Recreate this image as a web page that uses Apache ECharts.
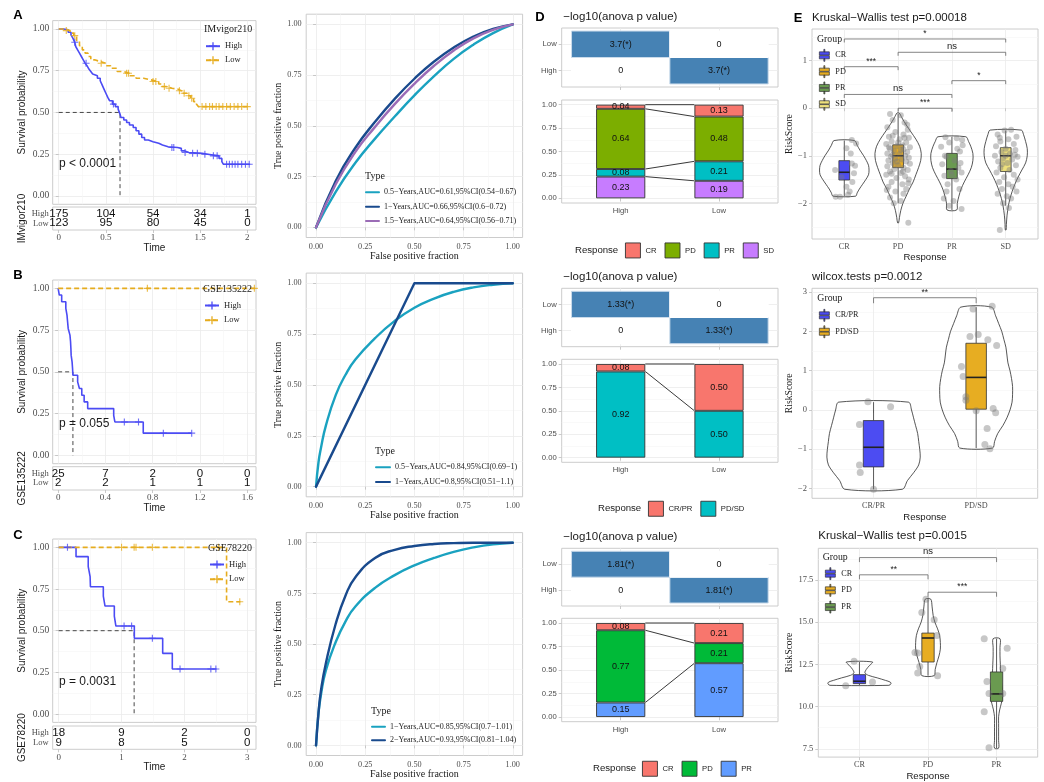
<!DOCTYPE html>
<html><head><meta charset="utf-8">
<script src="https://cdn.jsdelivr.net/npm/echarts@6/dist/echarts.min.js"></script>
<style>html,body{margin:0;padding:0;background:#fff}#c{width:1044px;height:782px}</style>
</head><body><div id="c"></div>
<script>
// ================= DATA =================
// ---- KM A : IMvigor210 ----
const kmA_ticks = [0, 0.5, 1, 1.5, 2];
const kmA_high = [[0,1],[0.05,0.995],[0.10,0.98],[0.13,0.965],[0.15,0.945],[0.17,0.92],[0.18,0.895],[0.20,0.875],[0.22,0.855],[0.24,0.835],[0.26,0.815],[0.28,0.795],[0.30,0.78],[0.32,0.76],[0.34,0.745],[0.36,0.73],[0.38,0.72],[0.41,0.705],[0.44,0.69],[0.46,0.665],[0.48,0.64],[0.50,0.615],[0.52,0.59],[0.54,0.57],[0.57,0.55],[0.60,0.535],[0.63,0.52],[0.65,0.49],[0.66,0.47],[0.69,0.455],[0.72,0.44],[0.75,0.425],[0.79,0.41],[0.82,0.39],[0.85,0.37],[0.88,0.35],[0.91,0.335],[0.95,0.325],[1.00,0.315],[1.06,0.305],[1.10,0.295],[1.16,0.29],[1.26,0.285],[1.30,0.27],[1.33,0.26],[1.38,0.255],[1.52,0.25],[1.58,0.24],[1.70,0.225],[1.73,0.205],[1.745,0.19],[2.03,0.19]];
const kmA_low = [[0,1],[0.07,0.99],[0.12,0.975],[0.16,0.96],[0.19,0.93],[0.22,0.90],[0.25,0.875],[0.28,0.855],[0.31,0.835],[0.34,0.815],[0.38,0.805],[0.44,0.795],[0.50,0.78],[0.55,0.765],[0.62,0.745],[0.69,0.735],[0.75,0.72],[0.82,0.705],[0.90,0.695],[0.98,0.685],[1.06,0.67],[1.10,0.655],[1.14,0.645],[1.20,0.64],[1.26,0.63],[1.30,0.615],[1.36,0.60],[1.40,0.585],[1.43,0.565],[1.46,0.55],[1.48,0.535],[2.03,0.535]];
const kmA_highCens = [[0.17,0.92],[0.29,0.795],[0.58,0.55],[1.20,0.29],[1.22,0.29],[1.34,0.26],[1.42,0.255],[1.47,0.255],[1.55,0.25],[1.64,0.24],[1.68,0.24],[1.78,0.19],[1.81,0.19],[1.84,0.19],[1.87,0.19],[1.90,0.19],[1.94,0.19],[1.98,0.19],[2.02,0.19]];
const kmA_lowCens = [[0.08,0.99],[0.17,0.96],[0.45,0.795],[0.72,0.735],[0.74,0.735],[1.00,0.685],[1.03,0.685],[1.12,0.655],[1.17,0.645],[1.28,0.63],[1.33,0.615],[1.38,0.60],[1.41,0.585],[1.52,0.535],[1.56,0.535],[1.60,0.535],[1.63,0.535],[1.67,0.535],[1.70,0.535],[1.74,0.535],[1.78,0.535],[1.82,0.535],[1.86,0.535],[1.90,0.535],[1.94,0.535],[2.00,0.535]];
const kmA_median = 0.65;
const riskA_high = [175, 104, 54, 34, 1];
const riskA_low = [123, 95, 80, 45, 0];

// ---- KM B : GSE135222 ----
const kmB_ticks = [0, 0.4, 0.8, 1.2, 1.6];
const kmB_high = [[0,1],[0.01,0.96],[0.03,0.92],[0.065,0.88],[0.075,0.84],[0.08,0.80],[0.085,0.76],[0.10,0.72],[0.105,0.68],[0.108,0.64],[0.11,0.60],[0.118,0.56],[0.122,0.52],[0.125,0.48],[0.165,0.44],[0.18,0.40],[0.20,0.36],[0.22,0.32],[0.25,0.28],[0.47,0.24],[0.48,0.20],[0.72,0.133],[1.13,0.133]];
const kmB_low = [[0,1],[1.674,1]];
const kmB_highCens = [[0.56,0.20],[0.68,0.20],[0.89,0.133],[1.13,0.133]];
const kmB_lowCens = [[0.755,1],[1.66,1]];
const kmB_median = 0.125;
const riskB_high = [25, 7, 2, 0, 0];
const riskB_low = [2, 2, 1, 1, 1];

// ---- KM C : GSE78220 ----
const kmC_ticks = [0, 1, 2, 3];
const kmC_high = [[0,1],[0.276,0.944],[0.47,0.884],[0.50,0.824],[0.505,0.764],[0.71,0.708],[0.737,0.648],[0.885,0.588],[0.91,0.528],[1.203,0.454],[1.654,0.364],[1.807,0.27],[2.51,0.27]];
const kmC_low = [[0,1],[2.67,0.674],[2.89,0.674]];
const kmC_highCens = [[0.14,1],[1.04,0.528],[1.16,0.528],[1.49,0.454],[1.93,0.27],[2.42,0.27],[2.50,0.27]];
const kmC_lowCens = [[1.0,1],[1.2,1],[1.23,1],[1.49,1],[2.54,1],[2.88,0.674]];
const kmC_median = 1.2;
const riskC_high = [18, 9, 2, 0];
const riskC_low = [9, 8, 5, 0];
const riskGroups = ['Low', 'High'];

// ---- ROC ----
const rocA_labels = ['0.5\u2212Years,AUC=0.61,95%CI(0.54\u22120.67)', '1\u2212Years,AUC=0.66,95%CI(0.6\u22120.72)', '1.5\u2212Years,AUC=0.64,95%CI(0.56\u22120.71)'];
const rocA_05 = [[0,0],[0.1,0.175],[0.2,0.318],[0.3,0.437],[0.4,0.546],[0.5,0.65],[0.6,0.745],[0.7,0.83],[0.8,0.9],[0.9,0.957],[1,1]];
const rocA_1 = [[0,0],[0.1,0.228],[0.2,0.392],[0.3,0.52],[0.4,0.633],[0.5,0.732],[0.6,0.817],[0.7,0.886],[0.8,0.94],[0.9,0.978],[1,1]];
const rocA_15 = [[0,0],[0.1,0.212],[0.2,0.372],[0.3,0.495],[0.4,0.607],[0.5,0.707],[0.6,0.796],[0.7,0.871],[0.8,0.931],[0.9,0.973],[1,1]];
const rocB_labels = ['0.5\u2212Years,AUC=0.84,95%CI(0.69\u22121)', '1\u2212Years,AUC=0.8,95%CI(0.51\u22121.1)'];
const rocB_05 = [[0,0],[0.0125,0.12],[0.025,0.19],[0.05,0.3],[0.1,0.45],[0.15,0.55],[0.2,0.625],[0.3,0.73],[0.4,0.815],[0.5,0.88],[0.6,0.925],[0.7,0.958],[0.8,0.98],[0.9,0.993],[1,1]];
const rocB_1 = [[0,0],[0.5,1],[1,1]];
const rocC_labels = ['1\u2212Years,AUC=0.85,95%CI(0.7\u22121.01)', '2\u2212Years,AUC=0.93,95%CI(0.81\u22121.04)'];
const rocC_1 = [[0,0],[0.0125,0.16],[0.025,0.25],[0.05,0.37],[0.1,0.51],[0.15,0.612],[0.2,0.685],[0.3,0.777],[0.4,0.84],[0.5,0.888],[0.6,0.925],[0.7,0.955],[0.8,0.977],[0.9,0.992],[1,1]];
const rocC_2 = [[0,0],[0.0125,0.16],[0.025,0.27],[0.05,0.405],[0.1,0.6],[0.15,0.74],[0.2,0.83],[0.3,0.925],[0.4,0.965],[0.5,0.984],[0.6,0.994],[0.7,0.998],[0.8,1],[1,1]];
const rocTicks = [0, 0.25, 0.5, 0.75, 1];

// ---- D : anova heatmaps + stacked proportions ----
const heatRows = ['High', 'Low'];
const heatCols = ['High', 'Low'];
const heatA = [[0, 3.7], [3.7, 0]];     // heat[row][col]
const heatB = [[0, 1.33], [1.33, 0]];
const heatC = [[0, 1.81], [1.81, 0]];
const barCats = ['High', 'Low'];
const respA = ['CR', 'PD', 'PR', 'SD'];
const propA_high = [0.044, 0.643, 0.081, 0.232];
const propA_low = [0.127, 0.478, 0.208, 0.187];
const respB = ['CR/PR', 'PD/SD'];
const propB_high = [0.08, 0.92];
const propB_low = [0.50, 0.50];
const respC = ['CR', 'PD', 'PR'];
const propC_high = [0.077, 0.769, 0.154];
const propC_low = [0.214, 0.214, 0.572];
const propTicks = [0, 0.25, 0.5, 0.75, 1];

// ---- E : risk score by response ----
const grpA = ['CR', 'PD', 'PR', 'SD'];
const boxA = [[-1.85,-1.51,-1.347,-1.103,-0.68],[-2.0,-1.25,-1.0,-0.77,-0.12],[-2.14,-1.48,-1.28,-0.95,-0.6],[-2.05,-1.33,-1.0,-0.83,-0.47]];
const vioA_CR = [[-0.68,0.19],[-0.78,0.24],[-0.88,0.29],[-1.0,0.36],[-1.1,0.41],[-1.2,0.45],[-1.3,0.46],[-1.4,0.45],[-1.5,0.40],[-1.6,0.34],[-1.7,0.28],[-1.78,0.24],[-1.85,0.21]];
const vioA_PD = [[-0.1,0.02],[-0.2,0.07],[-0.35,0.15],[-0.5,0.24],[-0.65,0.33],[-0.8,0.40],[-0.95,0.43],[-1.1,0.42],[-1.25,0.38],[-1.4,0.33],[-1.55,0.28],[-1.7,0.21],[-1.85,0.15],[-2.0,0.09],[-2.15,0.05],[-2.3,0.025],[-2.41,0.01]];
const vioA_PR = [[-0.6,0.26],[-0.7,0.31],[-0.8,0.35],[-0.95,0.39],[-1.1,0.39],[-1.25,0.36],[-1.4,0.30],[-1.55,0.23],[-1.7,0.17],[-1.85,0.13],[-2.0,0.10],[-2.14,0.09]];
const vioA_SD = [[-0.46,0.29],[-0.55,0.33],[-0.7,0.37],[-0.85,0.40],[-1.0,0.40],[-1.15,0.37],[-1.3,0.30],[-1.45,0.23],[-1.6,0.17],[-1.75,0.12],[-1.9,0.08],[-2.05,0.05],[-2.25,0.025],[-2.45,0.012],[-2.56,0.008]];
const ptsA = [[1.14,-0.67],[1.22,-0.74],[1.04,-0.84],[1.12,-0.95],[0.83,-1.30],[1.14,-1.16],[1.18,-1.37],[1.2,-1.21],[1.04,-1.65],[1.1,-1.75],[0.92,-1.86],[0.84,-1.86],[1.07,-1.82],[0.95,-1.45],[1.15,-1.55],
 [1.85,-0.12],[2.05,-0.15],[1.9,-0.25],[2.12,-0.3],[1.8,-0.4],[2.18,-0.45],[1.95,-0.5],[2.1,-0.55],[1.83,-0.6],[2.2,-0.62],[2.03,-0.65],[1.88,-0.7],[2.15,-0.72],[1.78,-0.75],[2.08,-0.78],[1.97,-0.8],[2.22,-0.82],[1.85,-0.85],[2.1,-0.87],[1.92,-0.9],[2.17,-0.92],[1.8,-0.95],[2.02,-0.97],[2.13,-1.0],[1.87,-1.02],[2.2,-1.04],[1.95,-1.06],[2.07,-1.08],[1.82,-1.1],[2.15,-1.12],[1.9,-1.15],[2.22,-1.17],[2.0,-1.2],[1.8,-1.22],[2.1,-1.25],[1.93,-1.28],[2.18,-1.3],[1.85,-1.33],[2.05,-1.36],[1.78,-1.4],[2.13,-1.43],[1.97,-1.47],[2.2,-1.5],[1.88,-1.55],[2.08,-1.6],[1.82,-1.65],[2.15,-1.7],[1.95,-1.75],[2.1,-1.8],[1.85,-1.88],[2.05,-1.95],[1.92,-2.0],[2.17,-0.35],[1.9,-0.98],[2.05,-0.88],[1.98,-1.12],[2.12,-0.62],[1.88,-1.38],[2.19,-1.58],[2.19,-2.41],[1.83,-0.82],[2.0,-0.72],[1.9,-0.58],[2.09,-1.33],[1.79,-1.72],
 [2.88,-0.61],[3.09,-0.63],[3.19,-0.67],[2.8,-0.81],[3.15,-0.91],[2.9,-1.02],[3.2,-0.78],[2.95,-0.72],[3.05,-1.1],[2.82,-1.18],[3.12,-1.25],[2.98,-1.32],[3.18,-1.35],[2.86,-1.42],[3.08,-1.5],[2.92,-1.6],[3.14,-1.7],[2.85,-1.9],[3.03,-1.95],[3.18,-2.12],[2.95,-2.05],[3.1,-0.85],[2.87,-1.0],[3.0,-1.4],[3.16,-1.15],[2.9,-1.75],
 [3.98,-0.47],[4.1,-0.45],[3.85,-0.55],[4.2,-0.6],[4.05,-0.65],[3.9,-0.7],[4.15,-0.75],[3.82,-0.8],[4.0,-0.85],[4.18,-0.88],[3.92,-0.92],[4.08,-0.95],[3.8,-1.0],[4.22,-1.02],[3.95,-1.05],[4.12,-1.08],[3.86,-1.12],[4.03,-1.15],[4.19,-1.2],[3.9,-1.25],[4.07,-1.3],[3.83,-1.35],[4.15,-1.4],[3.97,-1.45],[4.22,-1.5],[3.88,-1.55],[4.05,-1.6],[4.13,-1.65],[3.93,-1.7],[4.2,-1.75],[3.85,-1.8],[4.02,-1.85],[4.1,-1.9],[3.95,-2.0],[4.06,-2.1],[3.89,-0.62],[4.17,-0.98],[3.89,-2.56],[4.0,-1.0],[3.93,-1.18]];
const brA = [[1,4,1.457],[2,4,1.177],[1,2,0.874],[3,4,0.58],[1,3,0.29],[2,3,0.0]];
const brA_lab = ['*', 'ns', '***', '*', 'ns', '***'];
const yTicksA = [-2, -1, 0, 1];
const yMinorA = [-2.5, -1.5, -0.5, 0.5, 1.5];

const grpB = ['CR/PR', 'PD/SD'];
const boxB = [[-2.02,-1.45,-0.95,-0.27,0.2],[-0.97,0.02,0.83,1.70,2.62]];
const vioB_1 = [[0.2,0.34],[0.0,0.37],[-0.2,0.39],[-0.4,0.41],[-0.6,0.43],[-0.8,0.44],[-1.0,0.45],[-1.2,0.455],[-1.4,0.44],[-1.6,0.39],[-1.8,0.33],[-2.02,0.28]];
const vioB_2 = [[2.62,0.15],[2.4,0.19],[2.2,0.22],[2.0,0.25],[1.8,0.27],[1.6,0.29],[1.4,0.30],[1.2,0.31],[1.0,0.33],[0.8,0.345],[0.6,0.355],[0.4,0.355],[0.2,0.35],[0.0,0.33],[-0.2,0.30],[-0.4,0.26],[-0.6,0.21],[-0.8,0.18],[-0.97,0.16]];
const ptsB = [[0.945,0.21],[1.166,0.085],[0.863,-0.37],[0.863,-1.4],[0.87,-1.59],[1.0,-2.02],
 [1.97,2.57],[2.156,2.64],[1.94,1.87],[2.02,1.92],[2.114,1.79],[2.2,1.64],[1.857,1.11],[1.873,0.85],[1.9,0.34],[1.9,0.25],[2.0,-0.02],[2.166,0.04],[2.19,-0.07],[2.107,-0.47],[2.085,-0.88],[2.134,-0.99]];
const brB = [[1,2,2.86]];
const brB_lab = ['**'];
const yTicksB = [-2, -1, 0, 1, 2, 3];
const yMinorB = [-1.5, -0.5, 0.5, 1.5, 2.5];

const grpC = ['CR', 'PD', 'PR'];
const boxC = [[11.26,11.36,11.5,11.89,12.64],[11.83,12.64,14.06,14.35,16.36],[7.54,10.31,10.75,12.05,14.02]];
const vioC_CR = [[12.64,0.19],[12.4,0.14],[12.2,0.10],[12.0,0.08],[11.85,0.13],[11.7,0.26],[11.55,0.38],[11.45,0.45],[11.35,0.46],[11.26,0.43]];
const vioC_PD = [[16.36,0.04],[15.9,0.06],[15.4,0.075],[15.0,0.10],[14.6,0.14],[14.2,0.17],[13.8,0.18],[13.4,0.18],[13.0,0.16],[12.6,0.13],[12.2,0.105],[11.83,0.09]];
const vioC_PR = [[14.02,0.05],[13.5,0.05],[13.0,0.05],[12.5,0.055],[12.0,0.06],[11.5,0.07],[11.0,0.085],[10.6,0.09],[10.2,0.07],[9.8,0.045],[9.4,0.03],[9.0,0.03],[8.5,0.03],[8.0,0.03],[7.54,0.03]];
const ptsC = [[0.922,12.68],[0.8,11.24],[1.19,11.46],
 [1.97,16.36],[1.91,15.57],[2.09,15.14],[2.13,14.21],[1.81,13.2],[1.85,13.17],[1.88,12.38],[1.85,11.99],[2.14,11.83],
 [2.82,14.02],[3.155,13.46],[3.09,12.26],[2.86,11.48],[2.89,10.77],[3.09,10.77],[2.82,9.7],[2.89,7.56]];
const brC = [[1,3,18.82],[1,2,17.80],[2,3,16.77]];
const brC_lab = ['ns', '**', '***'];
const yTicksC = [7.5, 10, 12.5, 15, 17.5];
const yMinorC = [8.75, 11.25, 13.75, 16.25, 18.75];

// ================= STYLE / HELPERS =================
const SERIF = 'Liberation Serif', SANS = 'Liberation Sans';
const GRID_C = '#EBEBEB', MINOR_C = '#F5F5F5', BORDER_C = '#C6C6C6', TICK_C = '#BDBDBD', LAB_C = '#4D4D4D';
const BLUE = '#4B4BF4', GOLD = '#E6AC1E';
const CROSS = 'path://M4.2,0h1.6v10h-1.6zM0,4.2h10v1.6h-10z';
const BOXICON = 'path://M5.5,0h1v2.5h-1zM1,2.5h10v3.2h-10zM1,6.3h10v3.2h-10zM5.5,9.5h1v2.5h-1z';
const grids = [], xAxes = [], yAxes = [], series = [], legends = [], graphics = [];
const f2 = v => v.toFixed(2);
const stripName = n => n.slice(n.indexOf('_') + 1);

function mkAxis(gi, a, pos) {
  return {
    type: 'value', gridIndex: gi, position: pos, min: a.min, max: a.max,
    axisLine: { show: false },
    axisTick: { show: a.ticks !== false && !!a.major, length: 3, customValues: a.major, lineStyle: { color: TICK_C, width: 0.8 } },
    axisLabel: { show: !!a.fmt, customValues: a.major, formatter: a.fmt || (() => ''), fontFamily: a.font || SERIF, fontSize: a.size || 8.5, color: LAB_C, margin: a.margin == null ? 4 : a.margin },
    splitLine: { show: a.grid !== false && !!a.major, lineStyle: { color: GRID_C, width: 0.8 } },
    name: a.name || '', nameLocation: 'middle', nameGap: a.nameGap || 0,
    nameTextStyle: { fontFamily: a.nameFont || SANS, fontSize: a.nameSize || 10, color: '#1a1a1a' }
  };
}
function mkMinor(gi, a, pos) {
  return {
    type: 'value', gridIndex: gi, position: pos, min: a.min, max: a.max,
    axisLine: { show: false }, axisTick: { show: false, customValues: a.minor },
    axisLabel: { show: false, customValues: a.minor },
    splitLine: { show: true, lineStyle: { color: MINOR_C, width: 0.6 } }
  };
}
function panel(g, ax, ay) {
  const gi = grids.length;
  grids.push({ left: g.left, top: g.top, width: g.width, height: g.height, show: true, borderColor: BORDER_C, borderWidth: 0.9, backgroundColor: 'rgba(0,0,0,0)' });
  const xi = xAxes.length;
  xAxes.push(mkAxis(gi, ax, 'bottom'));
  if (ax.minor) xAxes.push(mkMinor(gi, ax, 'top'));
  const yi = yAxes.length;
  yAxes.push(mkAxis(gi, ay, 'left'));
  if (ay.minor) yAxes.push(mkMinor(gi, ay, 'right'));
  return { xi, yi };
}
function text(x, y, s, o) {
  graphics.push({ type: 'text', x: x, y: y, silent: true, z: 100,
    style: Object.assign({ text: s, fontFamily: SANS, fontSize: 10, fill: '#1a1a1a', align: 'left', verticalAlign: 'middle' }, o || {}) });
}

// ================= KM =================
function buildKM(o) {
  const P = panel({ left: 52.7, top: o.T, width: 203.3, height: o.H },
    { min: o.xmin, max: o.xmax, major: o.ticks, minor: o.xminor, ticks: false },
    { min: -0.05, max: 1.05, major: [0, 0.25, 0.5, 0.75, 1], minor: [0.125, 0.375, 0.625, 0.875], fmt: f2, size: 9.5, margin: 3.4,
      name: 'Survival probability', nameGap: 25.5, nameFont: SANS, nameSize: 10 });
  const ax = { xAxisIndex: P.xi, yAxisIndex: P.yi, silent: true };
  series.push(Object.assign({ type: 'line', data: [[0, 0.5], [o.med, 0.5], [o.med, 0]], symbol: 'none', lineStyle: { color: '#333', width: 0.9, type: [4, 3] }, z: 3 }, ax));
  series.push(Object.assign({ type: 'line', name: o.id + '_High', data: o.high, step: 'end', symbol: CROSS, symbolSize: 8, showSymbol: false, lineStyle: { color: BLUE, width: 1.6 }, itemStyle: { color: BLUE }, z: 4 }, ax));
  series.push(Object.assign({ type: 'line', name: o.id + '_Low', data: o.low, step: 'end', symbol: CROSS, symbolSize: 8, showSymbol: false, lineStyle: { color: GOLD, width: 1.6, type: [5, 3] }, itemStyle: { color: GOLD }, z: 4 }, ax));
  series.push(Object.assign({ type: 'scatter', data: o.highC, symbol: CROSS, symbolSize: 7, itemStyle: { color: BLUE }, z: 5 }, ax));
  series.push(Object.assign({ type: 'scatter', data: o.lowC, symbol: CROSS, symbolSize: 7, itemStyle: { color: GOLD }, z: 5 }, ax));
  const R = panel({ left: 52.7, top: o.RT, width: 203.3, height: o.RH },
    { min: o.xmin, max: o.xmax, major: o.ticks, fmt: v => String(v), size: 9, margin: 3.5, grid: false, name: 'Time', nameGap: 12.5, nameFont: SANS, nameSize: 10 },
    { min: 0.3, max: 2.7, major: [1, 2], fmt: v => riskGroups[v - 1], size: 8.5, margin: 4, grid: false, name: o.name, nameGap: 25.5, nameFont: SANS, nameSize: 10 });
  const rd = o.ticks.map((t, i) => [t, 2, o.rH[i]]).concat(o.ticks.map((t, i) => [t, 1, o.rL[i]]));
  series.push({ type: 'custom', xAxisIndex: R.xi, yAxisIndex: R.yi, silent: true, data: rd, z: 5,
    renderItem: (params, api) => {
      const p = api.coord([api.value(0), api.value(1)]);
      return { type: 'text', x: p[0], y: p[1], style: { text: String(api.value(2)), fontFamily: SANS, fontSize: 11.5, fill: '#111', align: 'center', verticalAlign: 'middle' } };
    } });
  legends.push({ left: o.lgL, top: o.lgT, orient: 'vertical', itemWidth: 14, itemHeight: 10, itemGap: o.lgGap, padding: 0, selectedMode: false,
    data: [o.id + '_High', o.id + '_Low'], formatter: stripName, itemStyle: { borderWidth: 0 },
    textStyle: { fontFamily: SERIF, fontSize: 8.5, color: '#222' } });
  text(o.lgL - 1, o.lgTitleY, o.name, { fontFamily: SERIF, fontSize: 10 });
  text(59, o.pY, o.p, { fontSize: 12 });
  text(18, o.letterY, o.letter, { fontSize: 13, fontWeight: 'bold', align: 'center', fill: '#000' });
}
buildKM({ id: 'KA', name: 'IMvigor210', letter: 'A', letterY: 15, T: 20.6, H: 183.7, RT: 207, RH: 23, xmin: -0.064, xmax: 2.092, ticks: kmA_ticks, xminor: [0.25, 0.75, 1.25, 1.75],
  high: kmA_high, low: kmA_low, highC: kmA_highCens, lowC: kmA_lowCens, med: kmA_median, rH: riskA_high, rL: riskA_low,
  lgL: 205, lgT: 41.7, lgGap: 5, lgTitleY: 29, pY: 163.3, p: 'p < 0.0001' });
buildKM({ id: 'KB', name: 'GSE135222', letter: 'B', letterY: 275, T: 280, H: 183.7, RT: 466.7, RH: 23.3, xmin: -0.046, xmax: 1.674, ticks: kmB_ticks, xminor: [0.2, 0.6, 1.0, 1.4],
  high: kmB_high, low: kmB_low, highC: kmB_highCens, lowC: kmB_lowCens, med: kmB_median, rH: riskB_high, rL: riskB_low,
  lgL: 204, lgT: 301, lgGap: 5.7, lgTitleY: 289, pY: 423.3, p: 'p = 0.055' });
buildKM({ id: 'KC', name: 'GSE78220', letter: 'C', letterY: 535, T: 539, H: 183.4, RT: 726, RH: 23.3, xmin: -0.095, xmax: 3.138, ticks: kmC_ticks, xminor: [0.5, 1.5, 2.5],
  high: kmC_high, low: kmC_low, highC: kmC_highCens, lowC: kmC_lowCens, med: kmC_median, rH: riskC_high, rL: riskC_low,
  lgL: 209, lgT: 560, lgGap: 5.7, lgTitleY: 548, pY: 682, p: 'p = 0.0031' });

// ================= ROC =================
const ROC_TEAL = '#1AA2C0', ROC_NAVY = '#194A8D', ROC_PURPLE = '#9B6CB6';
function buildROC(o) {
  const P = panel({ left: 306.2, top: o.T, width: 216.4, height: o.H },
    { min: -0.05, max: 1.05, major: rocTicks, minor: [0.125, 0.375, 0.625, 0.875], fmt: f2, size: 8.2, margin: 5, name: 'False positive fraction', nameGap: 13.5, nameFont: SERIF, nameSize: 10 },
    { min: -0.05, max: 1.05, major: rocTicks, minor: [0.125, 0.375, 0.625, 0.875], fmt: f2, size: 8.2, margin: 4.5, name: 'True positive fraction', nameGap: 21, nameFont: SERIF, nameSize: 10 });
  const names = [];
  o.curves.forEach((c, i) => {
    const nm = o.id + '_' + o.labels[i];
    names.push(nm);
    series.push({ type: 'line', name: nm, data: c, smooth: o.smooth[i] ? 0.5 : false, symbol: 'line', showSymbol: false, silent: true,
      lineStyle: { color: o.colors[i], width: 2.4, join: 'round', cap: 'round' }, itemStyle: { color: o.colors[i] }, xAxisIndex: P.xi, yAxisIndex: P.yi, z: 3 });
  });
  legends.push({ left: o.lgL, top: o.lgT, orient: 'vertical', itemWidth: o.lgW, itemHeight: 10, itemGap: o.lgGap, padding: 0, selectedMode: false,
    data: names, formatter: stripName, itemStyle: { borderWidth: 0 }, textStyle: { fontFamily: SERIF, fontSize: 8, color: '#222' } });
  text(o.lgL, o.typeY, 'Type', { fontFamily: SERIF, fontSize: 10 });
}
buildROC({ id: 'RA', T: 14.2, H: 223.3, curves: [rocA_05, rocA_1, rocA_15], labels: rocA_labels, smooth: [1, 1, 1], colors: [ROC_TEAL, ROC_NAVY, ROC_PURPLE], lgL: 365, lgT: 188.3, lgW: 13, lgGap: 6.4, typeY: 176.7 });
buildROC({ id: 'RB', T: 273.1, H: 223.7, curves: [rocB_05, rocB_1], labels: rocB_labels, smooth: [1, 0], colors: [ROC_TEAL, ROC_NAVY], lgL: 375, lgT: 463.3, lgW: 14, lgGap: 6.7, typeY: 451.7 });
buildROC({ id: 'RC', T: 532.6, H: 222.9, curves: [rocC_1, rocC_2], labels: rocC_labels, smooth: [1, 1], colors: [ROC_TEAL, ROC_NAVY], lgL: 371, lgT: 722.7, lgW: 13, lgGap: 5.6, typeY: 711.7 });

// ================= D =================
const D_LEFT = 561.7, D_WIDTH = 216.3, D_UNIT = D_WIDTH / 2.2;
function buildD(o) {
  text(563.3, o.titleY, '\u2212log10(anova p value)', { fontSize: 11.5 });
  if (o.letter) text(540, o.titleY, o.letter, { fontSize: 13, fontWeight: 'bold', align: 'center', fill: '#000' });
  const H = panel({ left: D_LEFT, top: o.hT, width: D_WIDTH, height: o.hH },
    { min: 0.4, max: 2.6, major: [1, 2] },
    { min: 0.385, max: 2.615, major: [1, 2], fmt: v => heatRows[v - 1], font: SANS, size: 7.7, margin: 5 });
  const cells = [];
  o.heat.forEach((row, r) => row.forEach((v, c) => cells.push([c + 1, r + 1, v])));
  series.push({ type: 'custom', xAxisIndex: H.xi, yAxisIndex: H.yi, silent: true, data: cells, z: 3,
    renderItem: (params, api) => {
      const x = api.value(0), y = api.value(1), v = api.value(2);
      const p0 = api.coord([x - 0.5, y + 0.5]), p1 = api.coord([x + 0.5, y - 0.5]);
      return { type: 'group', children: [
        { type: 'rect', shape: { x: p0[0], y: p0[1], width: p1[0] - p0[0], height: p1[1] - p0[1] }, style: { fill: v > 0 ? '#4682B4' : '#FFFFFF', stroke: v > 0 ? '#CADBEB' : '#FFFFFF', lineWidth: 1 } },
        { type: 'text', x: (p0[0] + p1[0]) / 2, y: (p0[1] + p1[1]) / 2, style: { text: v > 0 ? v + '(*)' : '0', fontFamily: SANS, fontSize: 9, fill: '#111', align: 'center', verticalAlign: 'middle' } }
      ] };
    } });
  // panel (border, grid, axis labels, link lines)
  const B = panel({ left: D_LEFT, top: o.bT, width: D_WIDTH, height: o.bH },
    { min: 0.4, max: 2.6, major: [1, 2], fmt: v => barCats[v - 1], font: SANS, size: 7.7, margin: 3.8 },
    { min: -0.05, max: 1.05, major: propTicks, minor: [0.125, 0.375, 0.625, 0.875], fmt: f2, font: SANS, size: 7.7, margin: 5 });
  // hidden category grid exactly over the two category bands, for stacked bars
  const gi = grids.length;
  grids.push({ left: D_LEFT + 0.1 * D_UNIT, top: o.bT, width: 2 * D_UNIT, height: o.bH, show: false });
  const bx = xAxes.length;
  xAxes.push({ type: 'category', gridIndex: gi, data: barCats, boundaryGap: true, show: false });
  const by = yAxes.length;
  yAxes.push({ type: 'value', gridIndex: gi, min: -0.05, max: 1.05, show: false });
  const names = [];
  let ch = 0, cl = 0;
  for (let k = o.cats.length - 1; k >= 0; k--) {
    const nm = o.id + '_' + o.cats[k];
    series.push({ type: 'bar', name: nm, stack: o.id, barWidth: '50%', xAxisIndex: bx, yAxisIndex: by, silent: true, z: 3,
      data: [o.high[k], o.low[k]],
      itemStyle: { color: o.colors[k], borderColor: '#333', borderWidth: 0.9 },
      label: { show: true, position: 'inside', formatter: p => f2(p.value), fontFamily: SANS, fontSize: 9, color: '#111' } });
    ch += o.high[k]; cl += o.low[k];
    series.push({ type: 'line', data: [[1.25, ch], [1.75, cl]], symbol: 'none', silent: true, xAxisIndex: B.xi, yAxisIndex: B.yi, z: 4,
      lineStyle: { color: '#222', width: 0.9 } });
  }
  o.cats.forEach(c => names.push(o.id + '_' + c));
  legends.push({ left: o.lgL, top: o.lgY - 7.5, orient: 'horizontal', itemWidth: 15, itemHeight: 15, itemGap: 8, padding: 0, selectedMode: false, icon: 'rect',
    data: names, formatter: stripName, itemStyle: { borderColor: '#333', borderWidth: 0.9 }, textStyle: { fontFamily: SANS, fontSize: 7.7, color: '#222' } });
  text(o.respX, o.lgY, 'Response', { fontSize: 9.6 });
}
buildD({ id: 'DA', letter: 'D', titleY: 17, hT: 28, hH: 59, bT: 100, bH: 103, heat: heatA, cats: respA, high: propA_high, low: propA_low,
  colors: ['#F8766D', '#7CAE00', '#00BFC4', '#C77CFF'], lgL: 625, lgY: 250, respX: 575 });
buildD({ id: 'DB', titleY: 277.3, hT: 288.3, hH: 58.4, bT: 359.3, bH: 103, heat: heatB, cats: respB, high: propB_high, low: propB_low,
  colors: ['#F8766D', '#00BFC4'], lgL: 648, lgY: 508.3, respX: 598 });
buildD({ id: 'DC', titleY: 536.7, hT: 548.3, hH: 57.7, bT: 618.3, bH: 103.4, heat: heatC, cats: respC, high: propC_high, low: propC_low,
  colors: ['#F8766D', '#00BA38', '#619CFF'], lgL: 642, lgY: 768.3, respX: 593 });

// ================= E =================
function buildE(o) {
  const n = o.cats.length;
  const P = panel({ left: o.L, top: o.T, width: o.W, height: o.H },
    { min: 0.4, max: n + 0.6, major: o.cats.map((_, i) => i + 1), fmt: v => o.cats[v - 1], size: 8.2, margin: 3.6, name: 'Response', nameGap: o.xGap, nameFont: SANS, nameSize: 9.6 },
    { min: o.ymin, max: o.ymax, major: o.yt, minor: o.ym, fmt: o.yfmt, size: 8.5, margin: 5, name: 'RiskScore', nameGap: o.yGap, nameFont: SERIF, nameSize: 9.7 });
  const ax = { xAxisIndex: P.xi, yAxisIndex: P.yi, silent: true };
  series.push(Object.assign({ type: 'custom', z: 2, data: o.vio.map((a, i) => [i + 1, a[0][0]]),
    renderItem: (params, api) => {
      const g = params.dataIndex + 1, arr = o.vio[params.dataIndex], pts = [];
      arr.forEach(d => pts.push(api.coord([g + d[1], d[0]])));
      for (let i = arr.length - 1; i >= 0; i--) pts.push(api.coord([g - arr[i][1], arr[i][0]]));
      return { type: 'polygon', shape: { points: pts, smooth: 0.3 }, style: { fill: 'rgba(255,255,255,0)', stroke: '#2b2b2b', lineWidth: 0.8 } };
    } }, ax));
  const names = [];
  o.box.forEach((b, i) => {
    const nm = o.id + '_' + o.cats[i];
    names.push(nm);
    const col = o.colors[i], hw = o.hw;
    series.push(Object.assign({ type: 'custom', name: nm, z: 3, itemStyle: { color: col }, data: [[i + 1].concat(b)],
      renderItem: (params, api) => {
        const g = api.value(0), lo = api.value(1), q1 = api.value(2), md = api.value(3), q3 = api.value(4), hi = api.value(5);
        const a = api.coord([g - hw, q3]), bb = api.coord([g + hw, q1]);
        const t = api.coord([g, hi]), u = api.coord([g, q3]), d = api.coord([g, q1]), e = api.coord([g, lo]);
        const m0 = api.coord([g - hw, md]), m1 = api.coord([g + hw, md]);
        const ls = { stroke: '#333', lineWidth: 0.8 };
        return { type: 'group', children: [
          { type: 'line', shape: { x1: t[0], y1: t[1], x2: u[0], y2: u[1] }, style: ls },
          { type: 'line', shape: { x1: d[0], y1: d[1], x2: e[0], y2: e[1] }, style: ls },
          { type: 'rect', shape: { x: a[0], y: a[1], width: bb[0] - a[0], height: bb[1] - a[1] }, style: { fill: col, stroke: '#333', lineWidth: 0.8 } },
          { type: 'line', shape: { x1: m0[0], y1: m0[1], x2: m1[0], y2: m1[1] }, style: { stroke: '#222', lineWidth: 1.6 } }
        ] };
      } }, ax));
  });
  series.push(Object.assign({ type: 'scatter', z: 4, data: o.pts, symbolSize: o.ps, itemStyle: { color: '#7a7a7a', opacity: 0.42 } }, ax));
  series.push(Object.assign({ type: 'custom', z: 5, data: o.br,
    renderItem: (params, api) => {
      const y = api.value(2);
      const a = api.coord([api.value(0), y]), b = api.coord([api.value(1), y]);
      const lab = o.brLab[params.dataIndex];
      return { type: 'group', children: [
        { type: 'polyline', shape: { points: [[a[0], a[1] + o.drop], [a[0], a[1]], [b[0], b[1]], [b[0], b[1] + o.drop]] }, style: { stroke: '#666', lineWidth: 0.8, fill: null } },
        { type: 'text', x: (a[0] + b[0]) / 2, y: a[1] - 1, style: { text: lab, fontFamily: SANS, fontSize: lab === 'ns' ? 9.5 : 8.5, fill: '#222', align: 'center', verticalAlign: 'bottom' } }
      ] };
    } }, ax));
  legends.push({ left: o.lgL, top: o.lgT, orient: 'vertical', itemWidth: 12, itemHeight: 12, itemGap: o.lgGap, padding: 0, selectedMode: false, icon: BOXICON,
    data: names, formatter: stripName, itemStyle: { borderColor: '#333', borderWidth: 0.7 }, textStyle: { fontFamily: SERIF, fontSize: 8.2, color: '#222' } });
  text(o.grpX, o.grpY, 'Group', { fontFamily: SERIF, fontSize: 9.8 });
  text(o.L, o.titleY, o.title, { fontSize: 11.5 });
  if (o.letter) text(798, o.titleY, o.letter, { fontSize: 13, fontWeight: 'bold', align: 'center', fill: '#000' });
}
const minusFmt = v => String(v).replace('-', '\u2212');
buildE({ id: 'EA', letter: 'E', title: 'Kruskal\u2212Wallis test p=0.00018', titleY: 18, L: 812, T: 29, W: 226, H: 210, ymin: -2.751, ymax: 1.667, yt: yTicksA, ym: yMinorA, yfmt: minusFmt,
  xGap: 12.9, yGap: 15.3, cats: grpA, box: boxA, vio: [vioA_CR, vioA_PD, vioA_PR, vioA_SD], pts: ptsA, ps: 6, hw: 0.1, br: brA, brLab: brA_lab, drop: 3.5,
  colors: ['#4C4CF2', '#E7AD22', '#6A9A50', '#EEE07C'], lgL: 819, lgT: 49, lgGap: 3.6, grpX: 817, grpY: 39 });
buildE({ id: 'EB', title: 'wilcox.tests p=0.0012', titleY: 276.7, L: 812, T: 288.3, W: 225.7, H: 210, ymin: -2.25, ymax: 3.1, yt: yTicksB, ym: yMinorB, yfmt: minusFmt,
  xGap: 13.6, yGap: 15.3, cats: grpB, box: boxB, vio: [vioB_1, vioB_2], pts: ptsB, ps: 7, hw: 0.1, br: brB, brLab: brB_lab, drop: 5.5,
  colors: ['#4C4CF2', '#E7AD22'], lgL: 819, lgT: 309, lgGap: 3.7, grpX: 817.3, grpY: 298.3 });
buildE({ id: 'EC', title: 'Kruskal\u2212Wallis test p=0.0015', titleY: 536, L: 818.3, T: 548.3, W: 219.4, H: 209, ymin: 7.01, ymax: 19.37, yt: yTicksC, ym: yMinorC, yfmt: v => v.toFixed(1),
  xGap: 13.9, yGap: 21.6, cats: grpC, box: boxC, vio: [vioC_CR, vioC_PD, vioC_PR], pts: ptsC, ps: 7, hw: 0.09, br: brC, brLab: brC_lab, drop: 4.5,
  colors: ['#4C4CF2', '#E7AD22', '#6A9A50'], lgL: 825, lgT: 567.3, lgGap: 4, grpX: 822.7, grpY: 557.7 });

// ================= RENDER =================
const chart = echarts.init(document.getElementById('c'), null, { renderer: 'canvas', width: 1044, height: 782 });
chart.setOption({
  animation: false, backgroundColor: '#ffffff', textStyle: { fontFamily: SANS },
  grid: grids, xAxis: xAxes, yAxis: yAxes, series: series, legend: legends,
  graphic: { elements: graphics }
});
</script></body></html>
